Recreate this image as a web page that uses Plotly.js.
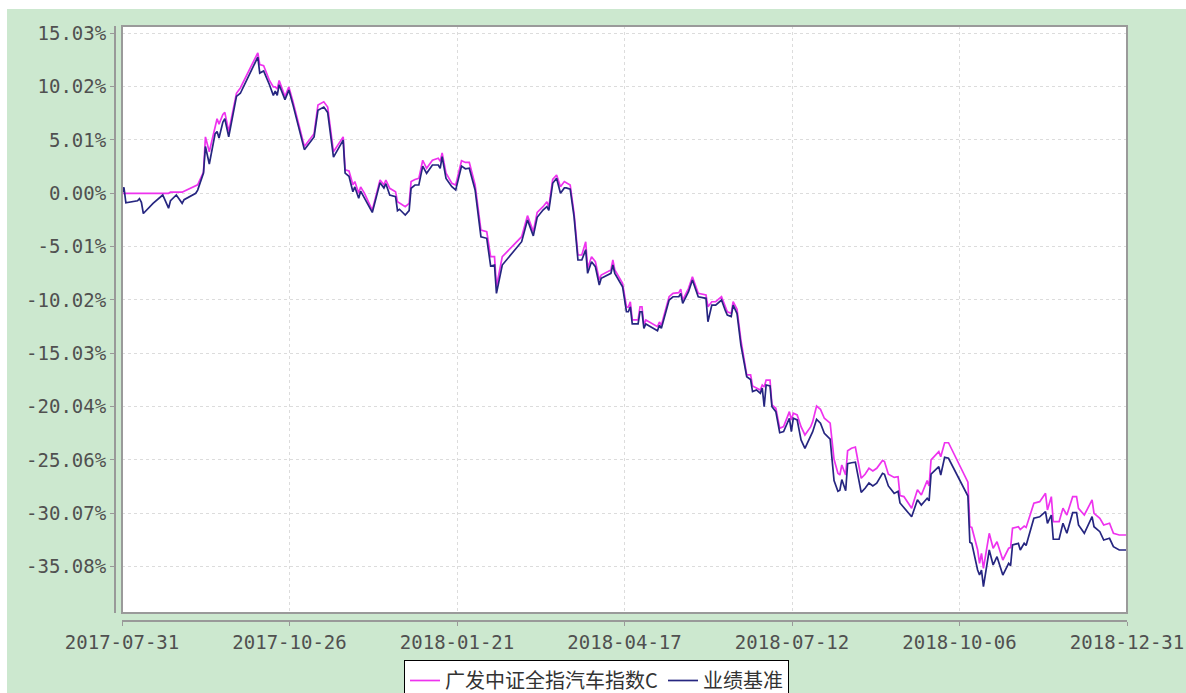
<!DOCTYPE html>
<html>
<head>
<meta charset="utf-8">
<script src="https://cdn.plot.ly/plotly-3.0.1.min.js"></script>
<style>
  html, body { margin: 0; padding: 0; background: #ffffff; }
  #chart { position: absolute; left: 7px; top: 9px; width: 1179px; height: 684px; }
</style>
</head>
<body>
<div id="chart"></div>
<script>
const dates = [
'2017-07-31','2017-08-01','2017-08-02','2017-08-08','2017-08-09','2017-08-10','2017-08-11','2017-08-16','2017-08-21','2017-08-24',
'2017-08-25','2017-08-28','2017-08-31','2017-09-01','2017-09-07','2017-09-08','2017-09-11','2017-09-12','2017-09-14','2017-09-17',
'2017-09-18','2017-09-19','2017-09-21','2017-09-22','2017-09-24','2017-09-28','2017-09-30','2017-10-09','2017-10-10','2017-10-12',
'2017-10-15','2017-10-17','2017-10-18','2017-10-19','2017-10-20','2017-10-21','2017-10-23','2017-10-25','2017-10-27','2017-11-02',
'2017-11-07','2017-11-09','2017-11-12','2017-11-14','2017-11-17','2017-11-22','2017-11-23','2017-11-25','2017-11-27','2017-11-28',
'2017-11-30','2017-12-01','2017-12-03','2017-12-07','2017-12-11','2017-12-13','2017-12-14','2017-12-16','2017-12-19','2017-12-20',
'2017-12-21','2017-12-24','2017-12-26','2017-12-27','2017-12-29','2017-12-31','2018-01-02','2018-01-04','2018-01-07','2018-01-10',
'2018-01-11','2018-01-12','2018-01-14','2018-01-17','2018-01-19','2018-01-22','2018-01-24','2018-01-26','2018-01-29','2018-02-01',
'2018-02-04','2018-02-06','2018-02-08','2018-02-09','2018-02-12','2018-02-22','2018-02-25','2018-02-28','2018-03-02','2018-03-05',
'2018-03-07','2018-03-08','2018-03-10','2018-03-12','2018-03-14','2018-03-16','2018-03-17','2018-03-19','2018-03-21','2018-03-23',
'2018-03-25','2018-03-27','2018-03-28','2018-03-30','2018-04-01','2018-04-03','2018-04-04','2018-04-09','2018-04-10','2018-04-11',
'2018-04-15','2018-04-17','2018-04-18','2018-04-19','2018-04-20','2018-04-23','2018-04-24','2018-04-25','2018-04-26','2018-04-27',
'2018-05-03','2018-05-04','2018-05-05','2018-05-07','2018-05-09','2018-05-11','2018-05-14','2018-05-15','2018-05-16','2018-05-19',
'2018-05-21','2018-05-24','2018-05-28','2018-05-29','2018-05-31','2018-06-02','2018-06-05','2018-06-07','2018-06-08','2018-06-10',
'2018-06-11','2018-06-13','2018-06-15','2018-06-18','2018-06-20','2018-06-21','2018-06-23','2018-06-25','2018-06-26','2018-06-27',
'2018-06-28','2018-06-30','2018-07-01','2018-07-03','2018-07-05','2018-07-07','2018-07-09','2018-07-10','2018-07-11','2018-07-12',
'2018-07-14','2018-07-16','2018-07-18','2018-07-21','2018-07-22','2018-07-24','2018-07-26','2018-07-28','2018-07-31','2018-08-02',
'2018-08-04','2018-08-05','2018-08-06','2018-08-08','2018-08-09','2018-08-11','2018-08-13','2018-08-16','2018-08-18','2018-08-20',
'2018-08-22','2018-08-24','2018-08-27','2018-08-28','2018-08-30','2018-09-02','2018-09-04','2018-09-05','2018-09-07','2018-09-11',
'2018-09-14','2018-09-16','2018-09-19','2018-09-20','2018-09-21','2018-09-25','2018-09-26','2018-09-28','2018-09-30','2018-10-08',
'2018-10-10','2018-10-11','2018-10-12','2018-10-15','2018-10-16','2018-10-17','2018-10-18','2018-10-21','2018-10-23','2018-10-25',
'2018-10-28','2018-10-31','2018-11-01','2018-11-02','2018-11-05','2018-11-06','2018-11-08','2018-11-09','2018-11-13','2018-11-16',
'2018-11-19','2018-11-20','2018-11-22','2018-11-23','2018-11-26','2018-11-28','2018-11-30','2018-12-03','2018-12-05','2018-12-06',
'2018-12-09','2018-12-13','2018-12-14','2018-12-17','2018-12-19','2018-12-22','2018-12-24','2018-12-27','2018-12-31'
];

const fundValues = [
0, 0, 0, 0, 0, 0, 0, 0, 0, 0,
0.1, 0.1, 0.1, 0.2, 0.7, 0.8, 2.0, 5.3, 3.9, 6.4,
7.0, 6.5, 7.4, 7.6, 5.8, 9.4, 9.9, 13.2, 12.1, 12.0,
10.6, 10.0, 10.0, 9.8, 10.6, 10.1, 9.1, 10.0, 8.7, 4.4,
5.6, 8.3, 8.6, 8.1, 3.9, 5.3, 2.2, 2.1, 0.8, 1.1,
0.0, 0.6, 0.0, -1.6, 1.25, 0.8, 1.25, 0.47, 0.15, -0.8,
-0.9, -1.26, -0.94, 1.1, 1.3, 1.4, 3.1, 2.35, 3.1, 3.3,
3.0, 3.8, 1.9, 0.94, 0.78, 3.06, 2.9, 2.9, 0.78, -3.45,
-3.6, -5.96, -5.96, -8.78, -5.96, -4.08, -2.1, -3.6, -1.8, -1.26,
-0.79, -1.26, 1.3, 1.72, 0.62, 1.1, 1.0, 0.78, -1.88, -5.8,
-5.8, -4.55, -7.05, -5.96, -6.43, -8.15, -7.68, -7.2, -6.27, -7.2,
-8.46, -10.66, -10.7, -10.19, -11.9, -11.9, -10.66, -10.66, -12.38, -11.9,
-12.53, -12.1, -12.4, -11.1, -9.72, -9.4, -9.34, -9.0, -10.03, -8.93,
-7.84, -9.4, -9.56, -10.66, -10.19, -10.19, -9.72, -10.66, -11.13, -11.28,
-10.19, -10.9, -13.79, -17.07, -17.07, -18.11, -18.33, -18.48, -18.01, -18.2,
-17.55, -17.55, -19.89, -20.2, -22.08, -21.93, -20.99, -20.52, -21.3, -20.67,
-20.83, -21.93, -22.71, -21.93, -21.46, -19.99, -20.3, -21.14, -21.6, -25.0,
-26.31, -26.47, -25.53, -26.47, -24.2, -23.96, -23.84, -26.78, -26.4, -25.84,
-26.1, -25.84, -25.1, -25.2, -26.4, -26.7, -26.63, -28.4, -28.5, -29.6,
-27.85, -28.35, -27.0, -27.5, -25.06, -24.28, -24.75, -23.44, -23.44, -26.5,
-27.15, -31.33, -31.4, -33.5, -34.77, -33.83, -35.24, -31.95, -33.36, -32.74,
-34.46, -33.36, -33.3, -31.48, -31.33, -31.6, -31.27, -31.4, -29.13, -28.98,
-28.19, -29.76, -28.51, -30.86, -30.86, -29.6, -30.23, -28.51, -28.51, -29.6,
-30.23, -28.82, -30.07, -30.54, -31.17, -31.01, -31.95, -32.11, -32.11
];

const benchValues = [
0, 0.56, -0.9, -0.7, -0.5, -0.85, -1.9, -0.94, -0.16, -1.4,
-0.7, -0.16, -0.94, -0.6, 0.0, 0.3, 1.9, 4.4, 2.75, 5.6,
5.8, 5.2, 6.7, 7.0, 5.3, 9.1, 9.4, 12.8, 11.3, 11.5,
10.2, 9.2, 9.6, 9.2, 10.2, 9.7, 8.8, 9.7, 8.4, 4.1,
5.3, 7.8, 8.1, 7.6, 3.4, 5.0, 1.9, 1.6, 0.15, 0.6,
-0.47, 0.2, -0.47, -1.8, 1.0, 0.5, 0.9, -0.16, -0.31, -1.63,
-1.5, -2.04, -1.63, 0.47, 0.78, 0.78, 2.56, 1.88, 2.66, 2.66,
2.35, 3.44, 1.4, 0.62, 0.31, 2.56, 2.3, 2.35, 0.31, -4.08,
-4.23, -6.83, -6.74, -9.4, -6.74, -4.55, -2.5, -4.0, -2.26, -1.57,
-1.26, -1.6, 0.94, 1.41, 0.0, 0.5, 0.5, 0.38, -2.2, -6.27,
-6.27, -5.3, -7.52, -6.43, -6.9, -8.62, -7.99, -7.52, -6.74, -7.52,
-8.78, -11.13, -11.13, -10.66, -12.28, -12.28, -11.13, -11.13, -12.69, -12.28,
-12.91, -12.4, -12.69, -11.44, -10.03, -9.72, -9.72, -9.4, -10.34, -9.25,
-8.15, -9.72, -9.87, -12.07, -10.5, -10.5, -10.03, -11.03, -11.44, -11.59,
-10.5, -11.3, -14.26, -17.23, -17.5, -18.64, -18.48, -18.79, -18.3, -20.05,
-18.01, -18.1, -20.05, -20.52, -22.5, -22.4, -21.46, -21.14, -22.4, -21.14,
-21.3, -23.18, -23.96, -22.71, -22.4, -21.24, -21.6, -22.55, -23.1, -27.0,
-28.0, -27.9, -26.9, -27.95, -25.4, -25.32, -25.27, -28.1, -27.72, -27.22,
-27.5, -27.25, -26.31, -26.4, -27.5, -28.2, -28.0, -29.1, -29.5, -30.4,
-28.8, -29.3, -28.66, -28.9, -26.4, -25.69, -26.47, -24.81, -24.9, -27.8,
-28.45, -32.8, -32.9, -35.4, -35.87, -35.4, -36.97, -33.52, -34.93, -34.15,
-35.87, -34.77, -35.0, -33.05, -32.9, -33.52, -32.89, -33.1, -30.54, -30.4,
-29.92, -31.01, -30.23, -32.51, -32.51, -31.01, -31.95, -30.01, -30.01, -31.17,
-31.95, -30.39, -31.33, -31.8, -32.58, -32.42, -33.21, -33.52, -33.52
];

const seriesNames = ['广发中证全指汽车指数C', '业绩基准'];
const yTickLabels = ['15.03%','10.02%','5.01%','0.00%','-5.01%','-10.02%','-15.03%','-20.04%','-25.06%','-30.07%','-35.08%'];
const xTickLabels = ['2017-07-31','2017-10-26','2018-01-21','2018-04-17','2018-07-12','2018-10-06','2018-12-31'];

// layout helpers
const startMs = Date.UTC(2017, 6, 31);
const endMs = Date.UTC(2018, 11, 31);
function fmt(ms) {
  const d = new Date(ms);
  const p = n => String(n).padStart(2, '0');
  return d.getUTCFullYear() + '-' + p(d.getUTCMonth() + 1) + '-' + p(d.getUTCDate()) + ' ' +
         p(d.getUTCHours()) + ':' + p(d.getUTCMinutes()) + ':' + p(d.getUTCSeconds());
}
const xTickVals = xTickLabels.map((_, k) => fmt(startMs + k * (endMs - startMs) / (xTickLabels.length - 1)));
const yTickVals = yTickLabels.map(s => parseFloat(s));

const tickFont = { family: 'DejaVu Sans Mono, Liberation Mono, monospace', size: 19, color: '#505050' };
const xDomStart = 7 / 1012;
const yDomStart = 8 / 595;

const traces = [
  { x: dates, y: fundValues, name: seriesNames[0], type: 'scatter', mode: 'lines',
    line: { color: '#ee33ee', width: 1.7 } },
  { x: dates, y: benchValues, name: seriesNames[1], type: 'scatter', mode: 'lines',
    line: { color: '#262680', width: 1.7 } }
];

const layout = {
  width: 1179, height: 684,
  paper_bgcolor: '#cce8cf',
  plot_bgcolor: '#ffffff',
  margin: { l: 108, r: 59, t: 17, b: 72, pad: 0 },
  showlegend: true,
  xaxis: {
    type: 'date', domain: [xDomStart, 1], anchor: 'free', position: 0,
    range: [fmt(startMs), fmt(endMs)],
    tickmode: 'array', tickvals: xTickVals, ticktext: xTickLabels,
    ticks: 'outside', ticklen: 4, tickwidth: 1, tickcolor: '#999999',
    showline: true, linecolor: '#999999', linewidth: 2,
    showgrid: true, gridcolor: '#dcdcdc', gridwidth: 1, griddash: '3px,3px',
    zeroline: false, tickfont: tickFont, fixedrange: true
  },
  yaxis: {
    domain: [yDomStart, 1], anchor: 'free', position: 0,
    range: [-39.44, 15.72],
    tickmode: 'array', tickvals: yTickVals, ticktext: yTickLabels,
    ticks: 'outside', ticklen: 4, tickwidth: 1, tickcolor: '#999999',
    showline: true, linecolor: '#999999', linewidth: 2,
    showgrid: true, gridcolor: '#dcdcdc', gridwidth: 1, griddash: '3px,3px',
    zeroline: false, tickfont: tickFont, fixedrange: true
  },
  shapes: [
    { type: 'rect', xref: 'paper', yref: 'paper', x0: xDomStart, x1: 1, y0: yDomStart, y1: 1,
      line: { color: '#9a9a9a', width: 2 }, fillcolor: 'rgba(0,0,0,0)', layer: 'above' }
  ],
  legend: {
    orientation: 'h', xref: 'container', yref: 'container',
    x: 0.5, xanchor: 'center', y: 1 - 651 / 684, yanchor: 'top',
    bgcolor: '#ffffff', bordercolor: '#000000', borderwidth: 1,
    font: { family: 'Noto Sans CJK SC, sans-serif', size: 20, color: '#333333' },
    itemwidth: 30
  }
};

Plotly.newPlot('chart', traces, layout, { displayModeBar: false, staticPlot: true });
</script>
</body>
</html>
